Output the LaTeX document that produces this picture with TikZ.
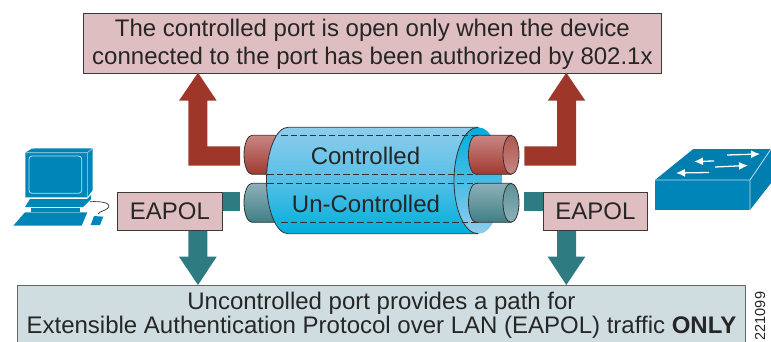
\documentclass[tikz,border=0pt]{standalone}
\usepackage{fontspec}
\setmainfont{Liberation Sans}
\usetikzlibrary{arrows.meta}
\definecolor{boxpink}{HTML}{DFBEC2}
\definecolor{boxgrey}{HTML}{CFDDE1}
\definecolor{arrred}{HTML}{9E362A}
\definecolor{arrteal}{HTML}{2E7C82}
\definecolor{devblue}{HTML}{0085B8}
\definecolor{edgeink}{HTML}{3A3A3A}
\definecolor{pipeA}{HTML}{C88684}
\definecolor{pipeB}{HTML}{A03A30}
\definecolor{tealA}{HTML}{8FB0B9}
\definecolor{tealB}{HTML}{3F7F85}
\definecolor{cylA}{HTML}{8FCCEC}
\definecolor{cylB}{HTML}{00AEDC}
\newcommand{\downtext}[1]{\raisebox{-2pt}[\height][\depth]{\begin{tabular}{@{}c@{}}#1\end{tabular}}}
\tikzset{
  labelbox/.style={draw=edgeink,line width=0.9pt,fill=boxpink,inner sep=0pt,align=center,text=black!85,font=\fontsize{24}{27.5}\selectfont},
  bluebody/.style={fill=devblue,draw=none},
  whiteline/.style={draw=white!75!devblue,line width=0.8pt},
  pipeedge/.style={draw=black!80,line width=0.8pt},
  tunnel/.style={draw=black!80,line width=0.8pt,dash pattern=on 6.5pt off 3pt},
  redarrow/.style={fill=arrred,draw=none},
  tealarrow/.style={fill=arrteal,draw=none},
  whitearrow/.style={white,line width=1.3pt,-{Latex[length=9pt,width=8pt]}},
  pipelabel/.style={inner sep=0pt,text=black!85,font=\fontsize{24}{27}\selectfont}
}
\begin{document}
\begin{tikzpicture}[x=1pt,y=-1pt]
\useasboundingbox (0,0) rectangle (771,341);
% label boxes
\node[labelbox,minimum width=578pt,minimum height=60pt,anchor=north west] (top) at (83,12.5) {\downtext{The controlled port is open only when the device\\connected to the port has been authorized by 802.1x}};
\node[labelbox,fill=boxgrey,minimum width=728pt,minimum height=58pt,anchor=north west,draw=gray!80!black,font=\fontsize{24}{24.5}\selectfont] (bottom) at (17,285) {\downtext{Uncontrolled port provides a path for\\Extensible Authentication Protocol over LAN (EAPOL) traffic \textbf{ONLY}}};
% block arrows
\fill[redarrow] (240,146.3) -- (207.3,146.3) -- (207.3,100.7) -- (216.7,100.7) -- (198,72.7) -- (179,100.7) -- (188.3,100.7) -- (188.3,165.7) -- (240,165.7) -- cycle;
\fill[redarrow] (524.3,146.3) -- (557,146.3) -- (557,100.7) -- (547.7,100.7) -- (566.3,72.7) -- (585.3,100.7) -- (576,100.7) -- (576,165.7) -- (524.3,165.7) -- cycle;
\fill[tealarrow] (221,191.7) rectangle (240,210.7);
\fill[tealarrow] (524.3,191.7) rectangle (544,210.7);
\fill[tealarrow] (188.3,229) -- (207.3,229) -- (207.3,256.7) -- (216.7,256.7) -- (198,285) -- (179,256.7) -- (188.3,256.7) -- cycle;
\fill[tealarrow] (557,229) -- (576,229) -- (576,256.7) -- (585.3,256.7) -- (566.3,285) -- (547.7,256.7) -- (557,256.7) -- cycle;
\node[labelbox,minimum width=104.5pt,minimum height=38.3pt,anchor=north west] (eapolL) at (117.2,191.7) {EAPOL};
\node[labelbox,minimum width=104.5pt,minimum height=38.3pt,anchor=north west] (eapolR) at (542.7,191.7) {EAPOL};
% left pipe stubs
\shade[top color=pipeA,bottom color=pipeB] (252,135.3) arc[start angle=-90,end angle=-270,x radius=8,y radius=19.5] -- (300,174.3) -- (300,135.3) -- cycle;
\draw[pipeedge] (300,135.3) -- (252,135.3) arc[start angle=-90,end angle=-270,x radius=8,y radius=19.5] -- (300,174.3);
\shade[top color=tealA,bottom color=tealB] (252,183.3) arc[start angle=-90,end angle=-270,x radius=8,y radius=19.5] -- (300,222.3) -- (300,183.3) -- cycle;
\draw[pipeedge] (300,183.3) -- (252,183.3) arc[start angle=-90,end angle=-270,x radius=8,y radius=19.5] -- (300,222.3);
% large cylinder
\shade[top color=cylA,bottom color=cylB,middle color=cylA!60!cylB]
  (288,127.3) -- (478,127.3) arc[start angle=-90,end angle=90,x radius=24,y radius=53.2] -- (288,233.7) arc[start angle=90,end angle=270,x radius=21.5,y radius=53.2] -- cycle;
\draw[pipeedge] (478,127.3) -- (288,127.3) arc[start angle=-90,end angle=-270,x radius=21.5,y radius=53.2] -- (478,233.7);
\shade[top color=cylB,bottom color=cylA] (478,180.5) ellipse[x radius=24,y radius=53.2];
\draw[pipeedge] (478,127.3) arc[start angle=-90,end angle=-270,x radius=24,y radius=53.2];
% right pipes
\shade[top color=pipeA,bottom color=pipeB] (511,135.3) -- (476,135.3) arc[start angle=-90,end angle=-270,x radius=7.5,y radius=19.5] -- (511,174.3) -- cycle;
\draw[pipeedge] (511,135.3) -- (476,135.3) arc[start angle=-90,end angle=-270,x radius=7.5,y radius=19.5] -- (511,174.3);
\shade[top color=pipeB!85!white,bottom color=pipeA] (511,154.8) ellipse[x radius=8,y radius=19.5];
\draw[pipeedge] (511,154.8) ellipse[x radius=8,y radius=19.5];
\shade[top color=tealA,bottom color=tealB] (511,183.3) -- (476,183.3) arc[start angle=-90,end angle=-270,x radius=7.5,y radius=19.5] -- (511,222.3) -- cycle;
\draw[pipeedge] (511,183.3) -- (476,183.3) arc[start angle=-90,end angle=-270,x radius=7.5,y radius=19.5] -- (511,222.3);
\shade[top color=tealB!85!white,bottom color=tealA] (511,202.8) ellipse[x radius=8,y radius=19.5];
\draw[pipeedge] (511,202.8) ellipse[x radius=8,y radius=19.5];
% dashed tunnels
\draw[tunnel] (281,135.3) -- (478,135.3);
\draw[tunnel] (267,174.3) -- (478,174.3);
\draw[tunnel] (267,183.3) -- (478,183.3);
\draw[tunnel] (281,222.3) -- (478,222.3);
\node[pipelabel] (ctl) at (365.5,155.5) {Controlled};
\node[pipelabel] (unc) at (366,203.5) {Un-Controlled};
% computer
\fill[bluebody] (25.3,152.7) -- (32,148.5) -- (92.7,148.3) -- (92.7,190) -- (87.3,197.3) -- (25.3,197.3) -- cycle;
\draw[white!70!devblue,line width=0.6pt] (25.3,152.7) -- (87.3,152.7) -- (92.7,148.3) (87.3,152.7) -- (87.3,197.3);
\draw[whiteline,rounded corners=3pt] (29,156) -- (81.7,156) -- (81.7,193.3) -- (29,193.3) -- cycle;
\fill[bluebody] (30,199) -- (87,199) -- (91,195) -- (91,199) -- (83,207) -- (25,207) -- cycle;
\fill[bluebody] (31,208) rectangle (80,211.5);
\draw[black!80,line width=0.7pt] (90,201.7) .. controls (102,201) and (112,203) .. (108,208) .. controls (105,211) and (100,211) .. (98,214);
\fill[bluebody] (13.3,225.7) -- (25,212.3) -- (87.3,212.3) -- (81.7,225.7) -- cycle;
\fill[bluebody] (90.7,225) -- (94,216) -- (103.3,216.7) -- (100,225) -- cycle;
% switch
\fill[bluebody] (655,180) rectangle (750,210);
\fill[devblue!95!black] (655,180) -- (693.3,149) -- (771,149) -- (771,183) -- (750,210) -- (750,180) -- cycle;
\draw[whiteline] (655,180) -- (750,180) -- (750,210) (750,180) -- (771,149);
\draw[whitearrow] (727,155) -- (760,154);
\draw[whitearrow] (714,161) -- (694,161.5);
\draw[whitearrow] (715,167) -- (748,165.5);
\draw[whitearrow] (709,172.5) -- (676,173);
% figure number
\node[rotate=90,anchor=west,inner sep=0pt,font=\fontsize{14.5}{15}\selectfont,text=black!85] (figno) at (760,340.5) {221099};
\end{tikzpicture}
\end{document}
